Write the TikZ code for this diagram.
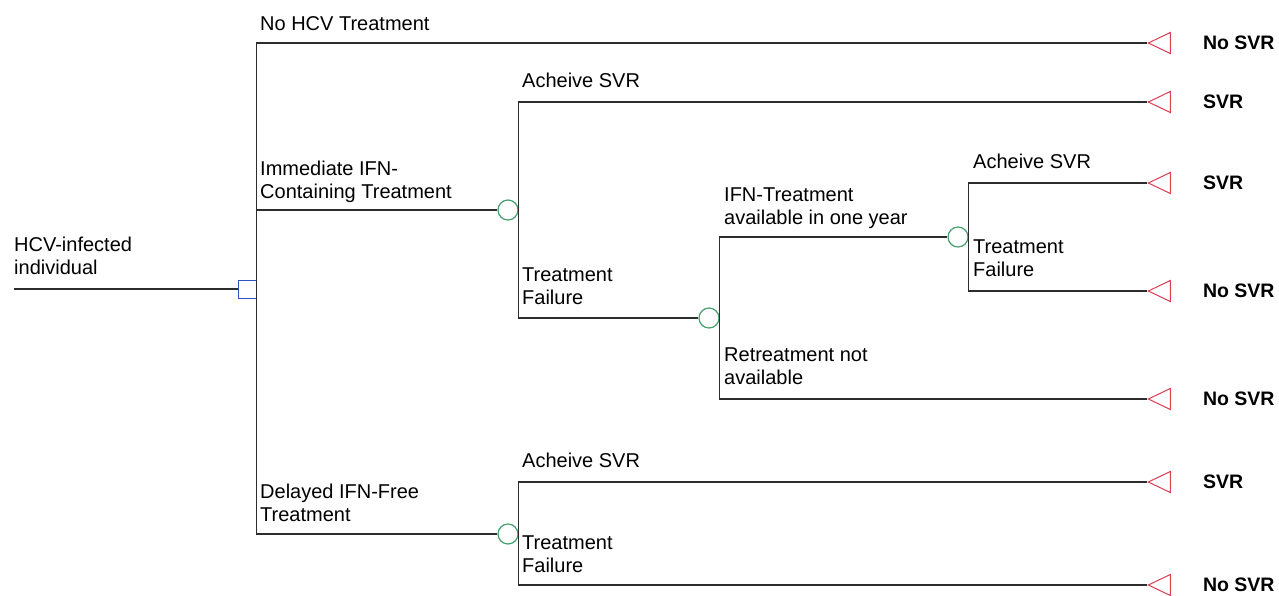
\documentclass[tikz,border=0pt]{standalone}
\usepackage{fontspec}
\setmainfont{Liberation Sans}
\usetikzlibrary{shapes.geometric}
\usetikzlibrary{positioning}

\definecolor{linegray}{RGB}{45,45,45}
\definecolor{decblue}{RGB}{50,80,190}
\definecolor{chgreen}{RGB}{70,160,110}
\definecolor{termred}{RGB}{220,60,80}

\begin{document}
\begin{tikzpicture}[x=1pt,y=-1pt,
	edge/.style={draw=linegray,line width=1.1pt},
	decision/.style={draw=decblue,line width=1pt,minimum size=18pt,inner sep=0pt,fill=white},
	chance/.style={circle,draw=chgreen,line width=1.2pt,minimum size=20pt,inner sep=0pt},
	terminal/.style={isosceles triangle,shape border rotate=180,isosceles triangle stretches,
		draw=termred,line width=1pt,minimum width=21pt,minimum height=22pt,inner sep=0pt,anchor=apex},
	lbl/.style={anchor=base west,align=left,inner sep=0pt,font=\fontsize{20}{23}\selectfont},
	outcome/.style={inner sep=0pt,font=\fontsize{19.5}{23}\selectfont\bfseries}]

	\useasboundingbox (0,0) rectangle (1279,595);

	% decision and chance nodes
	\coordinate (r) at (14,289);
	\node[decision] (d0) at (247,289) {};
	\node[chance] (c1) at (508,210) {};
	\node[chance] (c2) at (709,318) {};
	\node[chance] (c3) at (958,237) {};
	\node[chance] (c4) at (508,534) {};

	% terminal nodes
	\node[terminal] (t1) at (1147,43) {};
	\node[terminal] (t2) at (1147,102) {};
	\node[terminal] (t3) at (1147,183) {};
	\node[terminal] (t4) at (1147,291) {};
	\node[terminal] (t5) at (1147,399) {};
	\node[terminal] (t6) at (1147,482) {};
	\node[terminal] (t7) at (1147,585) {};

	% branches
	\draw[edge] (r) -- (d0.west);
	\draw[edge] (d0.east) |- (t1.apex);
	\draw[edge] (d0.east) |- (c1.west);
	\draw[edge] (d0.east) |- (c4.west);
	\draw[edge] (c1.east) |- (t2.apex);
	\draw[edge] (c1.east) |- (c2.west);
	\draw[edge] (c2.east) |- (c3.west);
	\draw[edge] (c2.east) |- (t5.apex);
	\draw[edge] (c3.east) |- (t3.apex);
	\draw[edge] (c3.east) |- (t4.apex);
	\draw[edge] (c4.east) |- (t6.apex);
	\draw[edge] (c4.east) |- (t7.apex);

	% branch labels (base = last line)
	\node[lbl] (l0) at (14,274) {HCV-infected\\individual};
	\node[lbl] (l1) at (260,30) {No HCV Treatment};
	\node[lbl] (l2) at (260,198) {Immediate IFN-\\Containing Treatment};
	\node[lbl] (l3) at (260,521) {Delayed IFN-Free\\Treatment};
	\node[lbl] (l4) at (522,87) {Acheive SVR};
	\node[lbl] (l5) at (522,304) {Treatment\\Failure};
	\node[lbl] (l6) at (724,224) {IFN-Treatment\\available in one year};
	\node[lbl] (l7) at (724,384) {Retreatment not\\available};
	\node[lbl] (l8) at (973,168) {Acheive SVR};
	\node[lbl] (l9) at (973,276) {Treatment\\Failure};
	\node[lbl] (l10) at (522,467) {Acheive SVR};
	\node[lbl] (l11) at (522,572) {Treatment\\Failure};

	% outcomes
	\node[outcome,right=32pt of t1] (o1) {No SVR};
	\node[outcome,right=32pt of t2] (o2) {SVR};
	\node[outcome,right=32pt of t3] (o3) {SVR};
	\node[outcome,right=32pt of t4] (o4) {No SVR};
	\node[outcome,right=32pt of t5] (o5) {No SVR};
	\node[outcome,right=32pt of t6] (o6) {SVR};
	\node[outcome,right=32pt of t7] (o7) {No SVR};
\end{tikzpicture}
\end{document}
